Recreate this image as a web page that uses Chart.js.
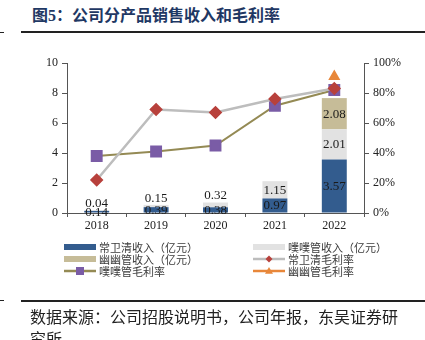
<!DOCTYPE html>
<html>
<head>
<meta charset="utf-8">
<script src="https://cdn.jsdelivr.net/npm/chart.js@4.4.1/dist/chart.umd.min.js"></script>
<style>
  html, body { margin:0; padding:0; background:#fff; }
  body { width:425px; height:340px; position:relative; overflow:hidden; }
  #title { position:absolute; left:32px; top:5px; font-family:"Liberation Serif","Noto Sans CJK SC",serif; font-weight:bold; font-size:16px; color:#1f3864; white-space:nowrap; line-height:22px; }
  .rule { position:absolute; background:#222; }
  #source { position:absolute; left:30px; top:305px; font-family:"Noto Sans CJK SC",sans-serif; font-size:16px; color:#222; width:370px; line-height:22px; }
  canvas { position:absolute; left:0; top:0; }
</style>
</head>
<body>
<div id="title">图5：公司分产品销售收入和毛利率</div>
<div class="rule" style="left:0;top:32px;width:4px;height:1px;"></div>
<div class="rule" style="left:21px;top:31px;width:404px;height:2px;"></div>
<canvas id="c" width="425" height="340"></canvas>
<div class="rule" style="left:0;top:300px;width:4px;height:1px;"></div>
<div class="rule" style="left:21px;top:300px;width:404px;height:2px;"></div>
<div id="source">数据来源：公司招股说明书，公司年报，东吴证券研究所</div>
<script>
const categories = ['2018', '2019', '2020', '2021', '2022'];
const cwqRevenue = [0.14, 0.39, 0.38, 0.97, 3.57];   // 常卫清收入（亿元）
const ppgRevenue = [0.04, 0.15, 0.32, 1.15, 2.01];   // 噗噗管收入（亿元）
const yygRevenue = [null, null, null, null, 2.08];   // 幽幽管收入（亿元）
const cwqMargin = [22, 69, 67, 76, 83];              // 常卫清毛利率 (%)
const ppgMargin = [38, 41, 45, 71.5, 82];            // 噗噗管毛利率 (%)
const yygMargin = [null, null, null, null, 91];      // 幽幽管毛利率 (%)
const leftTickValues = [0, 2, 4, 6, 8, 10];
const rightTickValues = [0, 20, 40, 60, 80, 100];

const SERIF = '"Liberation Serif", "Times New Roman", serif';
const CJK = '"Noto Sans CJK SC", sans-serif';

const datasets = [
  { type:'bar', label:'常卫清收入（亿元）', data:cwqRevenue, backgroundColor:'#335c8e', yAxisID:'y', stack:'rev', order:1, categoryPercentage:1, barPercentage:0.42 },
  { type:'bar', label:'噗噗管收入（亿元）', data:ppgRevenue, backgroundColor:'#e2e2e2', yAxisID:'y', stack:'rev', order:1, categoryPercentage:1, barPercentage:0.42 },
  { type:'bar', label:'幽幽管收入（亿元）', data:yygRevenue, backgroundColor:'#c6bc98', yAxisID:'y', stack:'rev', order:1, categoryPercentage:1, barPercentage:0.42 },
  { type:'line', label:'常卫清毛利率', data:cwqMargin, borderColor:'#bdbdbd', borderWidth:2.5, backgroundColor:'#b8413c', pointBackgroundColor:'#b8413c', pointBorderColor:'#b8413c', pointStyle:'rectRot', pointRadius:5, yAxisID:'y1', order:0, tension:0 },
  { type:'line', label:'噗噗管毛利率', data:ppgMargin, borderColor:'#948a54', borderWidth:2, backgroundColor:'#7a5ca6', pointBackgroundColor:'#7a5ca6', pointBorderColor:'#7a5ca6', pointStyle:'rect', pointRadius:7, yAxisID:'y1', order:0, tension:0 },
  { type:'line', label:'幽幽管毛利率', data:yygMargin, borderColor:'#e8873a', borderWidth:2, backgroundColor:'#e8873a', pointBackgroundColor:'#e8873a', pointBorderColor:'#e8873a', pointStyle:'triangle', pointRadius:5, yAxisID:'y1', order:0, tension:0 }
];

const barLabels = {
  id:'barLabels',
  afterDatasetsDraw(chart) {
    const ctx = chart.ctx;
    ctx.save();
    ctx.font = '13px ' + SERIF;
    ctx.fillStyle = '#1a1a1a';
    ctx.textAlign = 'center';
    ctx.textBaseline = 'middle';
    chart.data.datasets.forEach((ds, i) => {
      if (ds.type !== 'bar') return;
      const meta = chart.getDatasetMeta(i);
      meta.data.forEach((bar, j) => {
        const v = ds.data[j];
        if (v == null) return;
        const h = Math.abs(bar.base - bar.y);
        let y = (bar.y + bar.base) / 2;
        if (i > 0 && h < 12) y = bar.y - 7;
        ctx.fillText(v.toFixed(2), bar.x, y + 0.5);
      });
    });
    ctx.restore();
  }
};

function drawMarker(ctx, style, x, y, r, color) {
  ctx.fillStyle = color;
  ctx.beginPath();
  if (style === 'rect') {
    ctx.rect(x - r, y - r, 2 * r, 2 * r);
  } else if (style === 'rectRot') {
    ctx.moveTo(x, y - r); ctx.lineTo(x + r, y); ctx.lineTo(x, y + r); ctx.lineTo(x - r, y); ctx.closePath();
  } else if (style === 'triangle') {
    ctx.moveTo(x, y - r); ctx.lineTo(x + r, y + r * 0.7); ctx.lineTo(x - r, y + r * 0.7); ctx.closePath();
  }
  ctx.fill();
}

const legendPlugin = {
  id:'gridLegend',
  afterDraw(chart) {
    const ctx = chart.ctx;
    const cols = [64, 253];
    const rows = [247, 259, 271];
    ctx.save();
    ctx.font = '11px ' + CJK;
    ctx.textBaseline = 'middle';
    ctx.textAlign = 'left';
    chart.data.datasets.forEach((ds, i) => {
      const x = cols[i % 2];
      const y = rows[Math.floor(i / 2)];
      if (ds.type === 'bar') {
        ctx.fillStyle = ds.backgroundColor;
        ctx.fillRect(x, y - 3, 32, 6);
      } else {
        ctx.strokeStyle = ds.borderColor;
        ctx.lineWidth = 2.5;
        ctx.beginPath(); ctx.moveTo(x, y); ctx.lineTo(x + 32, y); ctx.stroke();
        const r = ds.pointStyle === 'rect' ? 4 : (ds.pointStyle === 'rectRot' ? 3.5 : 4);
        drawMarker(ctx, ds.pointStyle, x + 16, y, r, ds.pointBackgroundColor);
      }
      ctx.fillStyle = '#3a3a3a';
      ctx.fillText(ds.label, x + 35, y + 0.5);
    });
    ctx.restore();
  }
};

new Chart(document.getElementById('c'), {
  data: { labels: categories, datasets },
  options: {
    responsive:false,
    animation:false,
    devicePixelRatio:1,
    layout:{ padding:{ top:63, bottom:105, left:0, right:0 } },
    plugins:{ legend:{ display:false }, tooltip:{ enabled:false } },
    scales:{
      x:{
        stacked:true,
        offset:true,
        grid:{ display:true, drawOnChartArea:false, offset:true, tickLength:4, color:'#555' },
        border:{ color:'#555', width:1 },
        ticks:{ font:{ family:SERIF, size:12 }, color:'#222', padding:2, maxRotation:0 },
        afterFit(s){ s.height = 22; }
      },
      y:{
        position:'left',
        stacked:true,
        min:0, max:10,
        afterBuildTicks(s){ s.ticks = leftTickValues.map(v => ({ value:v })); },
        grid:{ display:true, drawOnChartArea:false, tickLength:5, color:'#555' },
        border:{ color:'#555', width:1 },
        ticks:{ font:{ family:SERIF, size:12 }, color:'#222', padding:4 },
        afterFit(s){ s.width = 67; }
      },
      y1:{
        position:'right',
        min:0, max:100,
        afterBuildTicks(s){ s.ticks = rightTickValues.map(v => ({ value:v })); },
        grid:{ display:true, drawOnChartArea:false, tickLength:5, color:'#555' },
        border:{ color:'#555', width:1 },
        ticks:{ font:{ family:SERIF, size:12 }, color:'#222', padding:4, callback:v => v + '%' },
        afterFit(s){ s.width = 61; }
      }
    }
  },
  plugins:[barLabels, legendPlugin]
});
</script>
</body>
</html>
